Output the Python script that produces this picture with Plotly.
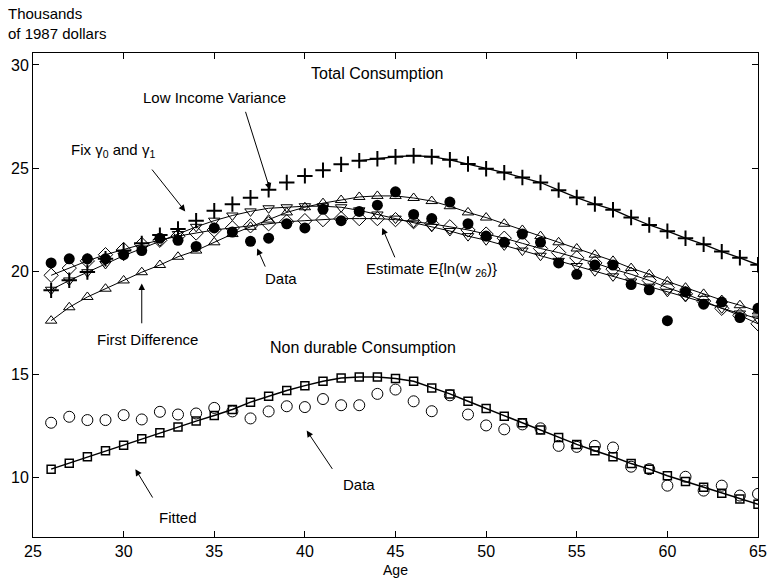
import plotly.graph_objects as go

ages = list(range(26, 66))

# Total consumption (thousands of 1987 dollars)
total_data = [20.4, 20.6, 20.6, 20.6, 20.8, 21.0, 21.6, 21.5, 21.2, 22.1,
              21.9, 21.45, 21.6, 22.3, 22.1, 23.0, 22.45, 22.9, 23.2, 23.85,
              22.75, 22.55, 23.35, 22.3, 21.7, 21.4, 21.8, 21.4, 20.4, 19.85,
              20.3, 20.3, 19.35, 19.1, 17.6, 19.0, 18.4, 18.5, 17.75, 18.2]
low_income_var = [19.07, 19.56, 19.96, 20.6, 21.0, 21.35, 21.75, 22.05, 22.45, 22.93,
                  23.25, 23.56, 23.95, 24.3, 24.62, 24.9, 25.18, 25.36, 25.45, 25.55,
                  25.6, 25.55, 25.4, 25.2, 24.97, 24.78, 24.54, 24.3, 23.93, 23.57,
                  23.25, 22.98, 22.6, 22.24, 21.94, 21.6, 21.3, 20.95, 20.65, 20.31]
fix_gamma = [19.1, 19.55, 19.95, 20.35, 20.75, 21.1, 21.45, 21.8, 22.15, 22.45,
             22.7, 22.9, 23.05, 23.1, 23.15, 23.15, 23.1, 22.95, 22.75, 22.55,
             22.35, 22.15, 21.95, 21.7, 21.5, 21.25, 21.0, 20.75, 20.5, 20.25,
             20.0, 19.75, 19.5, 19.25, 19.0, 18.75, 18.5, 18.2, 17.95, 17.7]
first_diff = [17.6, 18.25, 18.75, 19.15, 19.55, 19.95, 20.3, 20.7, 21.0, 21.4,
              21.8, 22.15, 22.5, 22.85, 23.1, 23.3, 23.45, 23.6, 23.65, 23.65,
              23.55, 23.4, 23.15, 22.85, 22.6, 22.3, 22.0, 21.7, 21.4, 21.1,
              20.8, 20.5, 20.15, 19.85, 19.5, 19.2, 18.9, 18.6, 18.35, 18.05]
estimate_w26 = [19.8, 20.15, 20.5, 20.8, 21.05, 21.3, 21.5, 21.7, 21.85, 22.0,
                22.1, 22.2, 22.3, 22.4, 22.45, 22.5, 22.55, 22.55, 22.55, 22.5,
                22.4, 22.3, 22.15, 22.0, 21.8, 21.6, 21.35, 21.1, 20.9, 20.65,
                20.4, 20.1, 19.85, 19.55, 19.2, 18.9, 18.55, 18.2, 17.85, 17.45]

# Non durable consumption
nd_data = [12.65, 12.94, 12.78, 12.78, 13.02, 12.81, 13.18, 13.05, 13.1, 13.37,
           13.2, 12.86, 13.2, 13.45, 13.41, 13.8, 13.5, 13.5, 14.05, 14.26,
           13.69, 13.21, 13.98, 13.05, 12.52, 12.33, 12.57, 12.38, 11.53, 11.48,
           11.53, 11.45, 10.52, 10.4, 9.6, 10.03, 9.36, 9.6, 9.12, 9.2]
nd_fitted = [10.4, 10.69, 11.0, 11.29, 11.56, 11.88, 12.17, 12.44, 12.73, 13.0,
             13.29, 13.65, 13.94, 14.21, 14.45, 14.66, 14.82, 14.87, 14.87, 14.8,
             14.66, 14.34, 14.05, 13.69, 13.34, 12.97, 12.65, 12.3, 11.93, 11.6,
             11.29, 11.0, 10.67, 10.4, 10.08, 9.8, 9.52, 9.23, 8.95, 8.7]

x_ticks = [25, 30, 35, 40, 45, 50, 55, 60, 65]
y_ticks = [10, 15, 20, 25, 30]

fig = go.Figure()


def add_series(y, symbol, size, lw=1, mlw=1):
    fig.add_trace(go.Scatter(
        x=ages, y=y, mode="lines+markers",
        line=dict(color="black", width=lw),
        marker=dict(symbol=symbol, size=size, color="black",
                    line=dict(color="black", width=mlw)),
        showlegend=False))


# model curves
add_series(estimate_w26, "diamond-open", 11)
add_series(fix_gamma, "triangle-down-open", 10)
add_series(first_diff, "triangle-up-open", 10)
# low income variance: markers throughout, connecting line only from age 43
start = ages.index(43)
fig.add_trace(go.Scatter(x=ages[start:], y=low_income_var[start:], mode="lines",
                         line=dict(color="black", width=1.3), showlegend=False))
fig.add_trace(go.Scatter(x=ages, y=low_income_var, mode="markers",
                         marker=dict(symbol="cross-thin-open", size=11, color="black",
                                     line=dict(color="black", width=2)),
                         showlegend=False))
# data
fig.add_trace(go.Scatter(x=ages, y=total_data, mode="markers",
                         marker=dict(symbol="circle", size=11, color="black"),
                         showlegend=False))
# non durable
add_series(nd_fitted, "square-open", 8, lw=1.5, mlw=1.5)
fig.add_trace(go.Scatter(x=ages, y=nd_data, mode="markers",
                         marker=dict(symbol="circle-open", size=11, color="black",
                                     line=dict(color="black", width=1)),
                         showlegend=False))

FONT = dict(family="Liberation Sans, Arial, sans-serif", size=15, color="black")


def label(x, y, text, size=15):
    fig.add_annotation(x=x, y=y, text=text, showarrow=False,
                       font=dict(FONT, size=size), xanchor="center", yanchor="middle")


def arrow(tail, tip):
    fig.add_annotation(x=tip[0], y=tip[1], ax=tail[0], ay=tail[1],
                       axref="x", ayref="y", xref="x", yref="y", text="",
                       showarrow=True, arrowhead=2, arrowsize=1.3, arrowwidth=1,
                       arrowcolor="black")


label(44.0, 29.6, "Total Consumption", 16)
label(35.0, 28.4, "Low Income Variance")
arrow((36.7, 27.8), (38.08, 23.95))
label(29.4, 25.85, "Fix γ<sub>0</sub> and γ<sub>1</sub>")
arrow((31.5, 25.0), (33.4, 22.9))
label(38.7, 19.65, "Data")
arrow((37.85, 20.15), (37.37, 21.1))
label(47.0, 20.1, "Estimate E{ln(w <sub>26</sub>)}")
arrow((45.0, 20.6), (44.27, 22.1))
label(31.3, 16.7, "First Difference")
arrow((31.0, 17.4), (31.0, 19.4))
label(43.2, 16.3, "Non durable Consumption", 16)
label(43.0, 9.66, "Data")
arrow((41.57, 10.34), (40.1, 12.27))
label(33.0, 8.07, "Fitted")
arrow((31.65, 8.95), (30.65, 10.4))

fig.add_annotation(x=0, y=1, xref="paper", yref="paper", xshift=-27, yshift=50,
                   text="Thousands<br>of 1987 dollars", showarrow=False,
                   align="left", xanchor="left", yanchor="top",
                   font=dict(FONT, size=15))

axis_common = dict(showgrid=False, zeroline=False, showline=True, linecolor="black",
                   linewidth=1, mirror="allticks", ticks="inside", ticklen=6,
                   tickcolor="black", tickfont=dict(FONT, size=16))
fig.update_xaxes(range=[25, 65], tickvals=x_ticks, **axis_common,
                 title=dict(text="Age", font=dict(FONT, size=14), standoff=5))
fig.update_yaxes(range=[7.11, 30.58], tickvals=y_ticks, **axis_common)

fig.update_layout(width=778, height=586, plot_bgcolor="white", paper_bgcolor="white",
                  margin=dict(l=33, r=11, t=53, b=46), font=FONT)

fig.write_html("out.html", config={"displayModeBar": False},
               post_script="document.body.style.margin='0';document.body.style.overflow='hidden';")
